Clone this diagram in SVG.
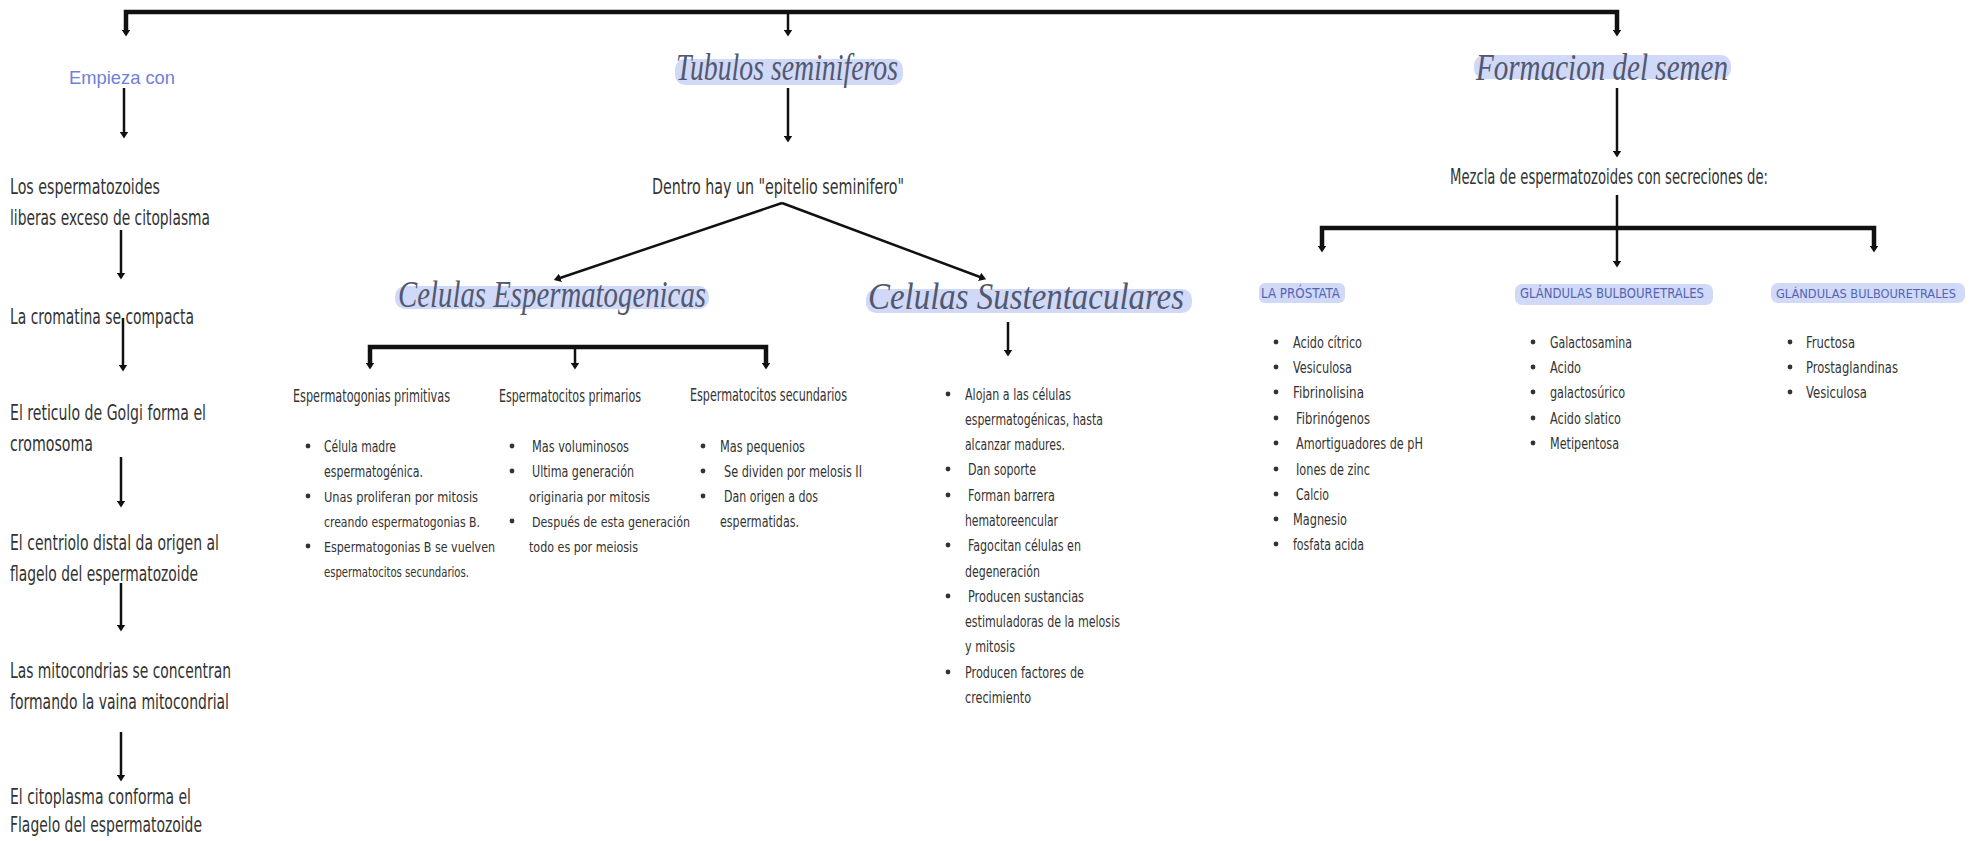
<svg xmlns="http://www.w3.org/2000/svg" width="1971" height="841" viewBox="0 0 1971 841">
<style>
.bg{fill:#ffffff}
.t{font-family:"Liberation Sans Narrow","DejaVu Sans Condensed","Liberation Sans",sans-serif;fill:#333333;font-stretch:condensed}
.lg{font-size:21px}
.md{font-size:21px}
.hd{font-size:17px}
.sm{font-size:16px}
.xs{font-size:14px}
.blue{font-family:"Liberation Sans",Arial,sans-serif;font-size:18.5px;fill:#6f80d8}
.gh{font-size:14px;fill:#5564b0}
.sc{font-family:"Liberation Serif","DejaVu Serif",serif;font-style:italic;font-size:38px;fill:#525870}
.hl{fill:#d0d9f8}
.bar{stroke:#111111;stroke-width:4.5;fill:none;stroke-linecap:square}
.ln{stroke:#111111;stroke-width:2.5;fill:none;marker-end:url(#ah)}
.dot{fill:#333333}
</style>
<defs>
<marker id="ah" viewBox="0 0 7 9" refX="0.5" refY="4.5" markerWidth="7" markerHeight="9" markerUnits="userSpaceOnUse" orient="auto">
<path d="M0,0 L7,4.5 L0,9 z" fill="#111111"/>
</marker>
</defs>
<rect class="bg" x="0" y="0" width="1971" height="841"/>

<g id="connectors">
<polyline class="bar" points="126,30 126,12 1617,12 1617,30"/>
<line class="ln" x1="126" y1="14" x2="126" y2="30"/>
<line class="ln" x1="788" y1="14" x2="788" y2="30"/>
<line class="ln" x1="1617" y1="14" x2="1617" y2="30"/>
<line class="ln" x1="124" y1="88" x2="124" y2="132"/>
<line class="ln" x1="121" y1="230" x2="121" y2="273"/>
<line class="ln" x1="123" y1="318" x2="123" y2="365"/>
<line class="ln" x1="121" y1="457" x2="121" y2="501"/>
<line class="ln" x1="121" y1="583" x2="121" y2="625"/>
<line class="ln" x1="121" y1="732" x2="121" y2="775"/>
<line class="ln" x1="788" y1="88" x2="788" y2="136"/>
<line class="ln" x1="782" y1="203" x2="560" y2="278"/>
<line class="ln" x1="782" y1="203" x2="980" y2="277"/>
<polyline class="bar" points="370,362 370,347 766,347 766,362"/>
<line class="ln" x1="370" y1="349" x2="370" y2="363"/>
<line class="ln" x1="575" y1="349" x2="575" y2="363"/>
<line class="ln" x1="766" y1="349" x2="766" y2="363"/>
<line class="ln" x1="1008" y1="322" x2="1008" y2="350"/>
<line class="ln" x1="1617" y1="88" x2="1617" y2="151"/>
<polyline class="bar" points="1322,245 1322,228 1874,228 1874,245"/>
<line class="ln" x1="1322" y1="230" x2="1322" y2="246"/>
<line class="ln" x1="1874" y1="230" x2="1874" y2="246"/>
<line class="ln" x1="1617" y1="195" x2="1617" y2="261"/>
</g>

<g id="n-empieza"><text class="blue" x="69" y="84" textLength="106" lengthAdjust="spacingAndGlyphs">Empieza con</text></g>
<g id="n-step1">
<text class="t lg" x="10" y="194" textLength="150" lengthAdjust="spacingAndGlyphs">Los espermatozoides</text>
<text class="t lg" x="10" y="225" textLength="200" lengthAdjust="spacingAndGlyphs">liberas exceso de citoplasma</text>
</g>
<g id="n-step2"><text class="t lg" x="10" y="324" textLength="184" lengthAdjust="spacingAndGlyphs">La cromatina se compacta</text></g>
<g id="n-step3">
<text class="t lg" x="10" y="420" textLength="196" lengthAdjust="spacingAndGlyphs">El reticulo de Golgi forma el</text>
<text class="t lg" x="10" y="451" textLength="83" lengthAdjust="spacingAndGlyphs">cromosoma</text>
</g>
<g id="n-step4">
<text class="t lg" x="10" y="550" textLength="209" lengthAdjust="spacingAndGlyphs">El centriolo distal da origen al</text>
<text class="t lg" x="10" y="581" textLength="188" lengthAdjust="spacingAndGlyphs">flagelo del espermatozoide</text>
</g>
<g id="n-step5">
<text class="t lg" x="10" y="678" textLength="221" lengthAdjust="spacingAndGlyphs">Las mitocondrias se concentran</text>
<text class="t lg" x="10" y="709" textLength="219" lengthAdjust="spacingAndGlyphs">formando la vaina mitocondrial</text>
</g>
<g id="n-step6">
<text class="t lg" x="10" y="804" textLength="181" lengthAdjust="spacingAndGlyphs">El citoplasma conforma el</text>
<text class="t lg" x="10" y="832" textLength="192" lengthAdjust="spacingAndGlyphs">Flagelo del espermatozoide</text>
</g>

<g id="n-tubulos">
<rect class="hl" x="675" y="59" width="228" height="26" rx="10"/>
<text class="sc" x="676" y="80" textLength="222" lengthAdjust="spacingAndGlyphs">Tubulos seminiferos</text>
</g>
<g id="n-dentro"><text class="t md" x="652" y="194" textLength="252" lengthAdjust="spacingAndGlyphs">Dentro hay un "epitelio seminifero"</text></g>

<g id="n-espermatogenicas">
<rect class="hl" x="395" y="286" width="314" height="23" rx="10"/>
<text class="sc" x="398" y="307" textLength="308" lengthAdjust="spacingAndGlyphs">Celulas Espermatogenicas</text>
</g>
<g id="n-sustentaculares">
<rect class="hl" x="866" y="289" width="326" height="24" rx="10"/>
<text class="sc" x="868" y="309" textLength="316" lengthAdjust="spacingAndGlyphs">Celulas Sustentaculares</text>
</g>

<g id="n-primitivas">
<text class="t hd" x="293" y="402" textLength="157" lengthAdjust="spacingAndGlyphs">Espermatogonias primitivas</text>
<circle class="dot" cx="308" cy="446" r="2.4"/>
<circle class="dot" cx="308" cy="496" r="2.4"/>
<circle class="dot" cx="308" cy="546" r="2.4"/>
<text class="t sm" x="324" y="452" textLength="72" lengthAdjust="spacingAndGlyphs">Célula madre</text>
<text class="t sm" x="324" y="477" textLength="99" lengthAdjust="spacingAndGlyphs">espermatogénica.</text>
<text class="t xs" x="324" y="502" textLength="154" lengthAdjust="spacingAndGlyphs">Unas proliferan por mitosis</text>
<text class="t xs" x="324" y="527" textLength="156" lengthAdjust="spacingAndGlyphs">creando espermatogonias B.</text>
<text class="t xs" x="324" y="552" textLength="171" lengthAdjust="spacingAndGlyphs">Espermatogonias B se vuelven</text>
<text class="t xs" x="324" y="577" textLength="145" lengthAdjust="spacingAndGlyphs">espermatocitos secundarios.</text>
</g>
<g id="n-primarios">
<text class="t hd" x="499" y="402" textLength="142" lengthAdjust="spacingAndGlyphs">Espermatocitos primarios</text>
<circle class="dot" cx="512" cy="446" r="2.4"/>
<circle class="dot" cx="512" cy="471" r="2.4"/>
<circle class="dot" cx="512" cy="521" r="2.4"/>
<text class="t sm" x="532" y="452" textLength="97" lengthAdjust="spacingAndGlyphs">Mas voluminosos</text>
<text class="t sm" x="532" y="477" textLength="102" lengthAdjust="spacingAndGlyphs">Ultima generación</text>
<text class="t xs" x="529" y="502" textLength="121" lengthAdjust="spacingAndGlyphs">originaria por mitosis</text>
<text class="t xs" x="532" y="527" textLength="158" lengthAdjust="spacingAndGlyphs">Después de esta generación</text>
<text class="t xs" x="529" y="552" textLength="109" lengthAdjust="spacingAndGlyphs">todo es por meiosis</text>
</g>
<g id="n-secundarios">
<text class="t hd" x="690" y="401" textLength="157" lengthAdjust="spacingAndGlyphs">Espermatocitos secundarios</text>
<circle class="dot" cx="703" cy="446" r="2.4"/>
<circle class="dot" cx="703" cy="471" r="2.4"/>
<circle class="dot" cx="703" cy="496" r="2.4"/>
<text class="t sm" x="720" y="452" textLength="85" lengthAdjust="spacingAndGlyphs">Mas pequenios</text>
<text class="t sm" x="724" y="477" textLength="138" lengthAdjust="spacingAndGlyphs">Se dividen por melosis II</text>
<text class="t sm" x="724" y="502" textLength="94" lengthAdjust="spacingAndGlyphs">Dan origen a dos</text>
<text class="t sm" x="720" y="527" textLength="79" lengthAdjust="spacingAndGlyphs">espermatidas.</text>
</g>
<g id="n-sust-list">
<circle class="dot" cx="948" cy="394" r="2.4"/>
<circle class="dot" cx="948" cy="469" r="2.4"/>
<circle class="dot" cx="948" cy="495" r="2.4"/>
<circle class="dot" cx="948" cy="545" r="2.4"/>
<circle class="dot" cx="948" cy="596" r="2.4"/>
<circle class="dot" cx="948" cy="672" r="2.4"/>
<text class="t sm" x="965" y="400" textLength="106" lengthAdjust="spacingAndGlyphs">Alojan a las células</text>
<text class="t sm" x="965" y="425" textLength="138" lengthAdjust="spacingAndGlyphs">espermatogénicas, hasta</text>
<text class="t sm" x="965" y="450" textLength="100" lengthAdjust="spacingAndGlyphs">alcanzar madures.</text>
<text class="t sm" x="968" y="475" textLength="68" lengthAdjust="spacingAndGlyphs">Dan soporte</text>
<text class="t sm" x="968" y="501" textLength="87" lengthAdjust="spacingAndGlyphs">Forman barrera</text>
<text class="t sm" x="965" y="526" textLength="93" lengthAdjust="spacingAndGlyphs">hematoreencular</text>
<text class="t sm" x="968" y="551" textLength="113" lengthAdjust="spacingAndGlyphs">Fagocitan células en</text>
<text class="t sm" x="965" y="577" textLength="75" lengthAdjust="spacingAndGlyphs">degeneración</text>
<text class="t sm" x="968" y="602" textLength="116" lengthAdjust="spacingAndGlyphs">Producen sustancias</text>
<text class="t sm" x="965" y="627" textLength="155" lengthAdjust="spacingAndGlyphs">estimuladoras de la melosis</text>
<text class="t sm" x="965" y="652" textLength="50" lengthAdjust="spacingAndGlyphs">y mitosis</text>
<text class="t sm" x="965" y="678" textLength="119" lengthAdjust="spacingAndGlyphs">Producen factores de</text>
<text class="t sm" x="965" y="703" textLength="66" lengthAdjust="spacingAndGlyphs">crecimiento</text>
</g>

<g id="n-formacion">
<rect class="hl" x="1474" y="55" width="257" height="24" rx="10"/>
<text class="sc" x="1476" y="80" textLength="252" lengthAdjust="spacingAndGlyphs">Formacion del semen</text>
</g>
<g id="n-mezcla"><text class="t md" x="1450" y="184" textLength="318" lengthAdjust="spacingAndGlyphs">Mezcla de espermatozoides con secreciones de:</text></g>

<g id="n-prostata">
<rect class="hl" x="1259" y="283" width="86" height="20" rx="6"/>
<text class="t gh" x="1261" y="298" textLength="79" lengthAdjust="spacingAndGlyphs">LA PRÓSTATA</text>
<circle class="dot" cx="1276" cy="342" r="2.4"/>
<circle class="dot" cx="1276" cy="367" r="2.4"/>
<circle class="dot" cx="1276" cy="392" r="2.4"/>
<circle class="dot" cx="1276" cy="418" r="2.4"/>
<circle class="dot" cx="1276" cy="443" r="2.4"/>
<circle class="dot" cx="1276" cy="469" r="2.4"/>
<circle class="dot" cx="1276" cy="494" r="2.4"/>
<circle class="dot" cx="1276" cy="519" r="2.4"/>
<circle class="dot" cx="1276" cy="544" r="2.4"/>
<text class="t sm" x="1293" y="348" textLength="69" lengthAdjust="spacingAndGlyphs">Acido cítrico</text>
<text class="t sm" x="1293" y="373" textLength="59" lengthAdjust="spacingAndGlyphs">Vesiculosa</text>
<text class="t sm" x="1293" y="398" textLength="71" lengthAdjust="spacingAndGlyphs">Fibrinolisina</text>
<text class="t sm" x="1296" y="424" textLength="74" lengthAdjust="spacingAndGlyphs">Fibrinógenos</text>
<text class="t sm" x="1296" y="449" textLength="127" lengthAdjust="spacingAndGlyphs">Amortiguadores de pH</text>
<text class="t sm" x="1296" y="475" textLength="74" lengthAdjust="spacingAndGlyphs">Iones de zinc</text>
<text class="t sm" x="1296" y="500" textLength="33" lengthAdjust="spacingAndGlyphs">Calcio</text>
<text class="t sm" x="1293" y="525" textLength="54" lengthAdjust="spacingAndGlyphs">Magnesio</text>
<text class="t sm" x="1293" y="550" textLength="71" lengthAdjust="spacingAndGlyphs">fosfata acida</text>
</g>
<g id="n-glandulas1">
<rect class="hl" x="1515" y="284" width="198" height="21" rx="7"/>
<text class="t gh" x="1520" y="298" textLength="184" lengthAdjust="spacingAndGlyphs">GLÁNDULAS  BULBOURETRALES</text>
<circle class="dot" cx="1533" cy="342" r="2.4"/>
<circle class="dot" cx="1533" cy="367" r="2.4"/>
<circle class="dot" cx="1533" cy="392" r="2.4"/>
<circle class="dot" cx="1533" cy="418" r="2.4"/>
<circle class="dot" cx="1533" cy="443" r="2.4"/>
<text class="t sm" x="1550" y="348" textLength="82" lengthAdjust="spacingAndGlyphs">Galactosamina</text>
<text class="t sm" x="1550" y="373" textLength="31" lengthAdjust="spacingAndGlyphs">Acido</text>
<text class="t sm" x="1550" y="398" textLength="75" lengthAdjust="spacingAndGlyphs">galactosúrico</text>
<text class="t sm" x="1550" y="424" textLength="71" lengthAdjust="spacingAndGlyphs">Acido slatico</text>
<text class="t sm" x="1550" y="449" textLength="69" lengthAdjust="spacingAndGlyphs">Metipentosa</text>
</g>
<g id="n-glandulas2">
<rect class="hl" x="1771" y="283" width="194" height="20" rx="7"/>
<text class="t gh" x="1776" y="298" style="font-size:12.5px" textLength="180" lengthAdjust="spacingAndGlyphs">GLÁNDULAS BULBOURETRALES</text>
<circle class="dot" cx="1790" cy="342" r="2.4"/>
<circle class="dot" cx="1790" cy="367" r="2.4"/>
<circle class="dot" cx="1790" cy="392" r="2.4"/>
<text class="t sm" x="1806" y="348" textLength="49" lengthAdjust="spacingAndGlyphs">Fructosa</text>
<text class="t sm" x="1806" y="373" textLength="92" lengthAdjust="spacingAndGlyphs">Prostaglandinas</text>
<text class="t sm" x="1806" y="398" textLength="61" lengthAdjust="spacingAndGlyphs">Vesiculosa</text>
</g>
</svg>
